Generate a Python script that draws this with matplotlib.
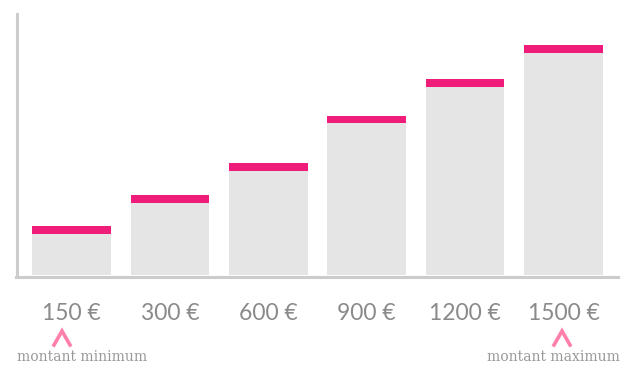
import matplotlib
matplotlib.use("Agg")
import matplotlib.pyplot as plt
from matplotlib.lines import Line2D

labels = ["150 €", "300 €", "600 €", "900 €", "1200 €", "1500 €"]
base_values = [41, 72, 104, 152, 188, 222]
cap_values = [8, 8, 8, 7, 8, 8]

W, H = 640, 380
fig = plt.figure(figsize=(6.4, 3.8), dpi=100)
ax_l, ax_r, ax_t, ax_b = 16.5, 618, 14, 276.5
ax = fig.add_axes([ax_l / W, (H - ax_b) / H, (ax_r - ax_l) / W, (ax_b - ax_t) / H])

x = list(range(len(labels)))
ax.bar(x, base_values, width=0.8, color="#e5e5e5", linewidth=0)
ax.bar(x, cap_values, bottom=base_values, width=0.8, color="#ef1d79", linewidth=0)

step = 98.4
ax.set_xlim(-(71.5 - ax_l) / step, (ax_r - 71.5) / step)
ax.set_ylim(-1.5, ax_b - ax_t - 1.5)

for s in ["top", "right"]:
    ax.spines[s].set_visible(False)
for s in ["left", "bottom"]:
    ax.spines[s].set_color("#cccccc")
    ax.spines[s].set_linewidth(2.2)
ax.spines["bottom"].set_position(("data", -1.5))
ax.set_yticks([])
ax.set_xticks(x)
ax.set_xticklabels(labels, fontsize=16.5, color="#8a8a8a", family="Lato")
ax.tick_params(axis="x", length=0, pad=19)

# carets and notes
def caret(cx, cy):
    fig.add_artist(Line2D([(cx - 8) / W, cx / W, (cx + 8) / W],
                          [(H - cy - 7) / H, (H - cy + 7) / H, (H - cy - 7) / H],
                          color="#ff7fab", linewidth=2.6, solid_joinstyle="miter"))

caret(62, 338)
caret(562, 338)
fig.text(82 / W, 1 - 357 / H, "montant minimum", ha="center", va="center",
         fontsize=10, color="#999999", family="DejaVu Serif")
fig.text(553 / W, 1 - 357 / H, "montant maximum", ha="center", va="center",
         fontsize=10, color="#999999", family="DejaVu Serif")

fig.savefig("out.png", dpi=100)
